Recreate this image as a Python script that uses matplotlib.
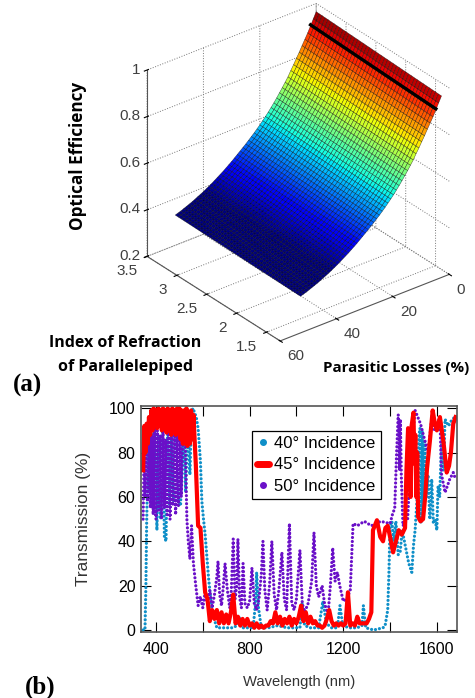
import numpy as np
import matplotlib
matplotlib.use('Agg')
import matplotlib.pyplot as plt
from matplotlib.lines import Line2D
from matplotlib.transforms import ScaledTranslation

plt.rcParams['font.family'] = ['Liberation Sans', 'DejaVu Sans']

# (a) surface, values
losses = np.arange(0, 51)
index_n = np.arange(1.4, 3.501, 0.05)
eff_by_loss = [.945, .92, .895, .87, .848, .826, .803, .782, .76, .74, .718,
               .70, .682, .665, .648, .632, .617, .602, .588, .575, .562,
               .55, .538, .527, .516, .505, .495, .485, .475, .465, .455,
               .446, .437, .428, .42, .412, .404, .396, .389, .382, .375,
               .369, .363, .357, .351, .346, .341, .336, .331, .327, .323]
gain_by_n = [1.0, 1.0, 1.001, 1.001, 1.002, 1.002, 1.003, 1.003, 1.004, 1.004,
             1.005, 1.005, 1.006, 1.006, 1.007, 1.007, 1.008, 1.008, 1.009, 1.009,
             1.01, 1.01, 1.011, 1.011, 1.012, 1.012, 1.013, 1.013, 1.014, 1.014,
             1.015, 1.015, 1.016, 1.016, 1.017, 1.017, 1.018, 1.018, 1.019, 1.019,
             1.02, 1.02, 1.021]
marked_loss = 2

# (b) spectra
wl_40 = [345, 353, 357, 360, 366, 372, 380, 388, 396, 404, 412, 420, 428, 436, 443, 450, 458, 466, 475, 484,
         492, 505, 515, 527, 535, 545, 552, 558, 565, 572, 580, 590, 596, 603, 610, 625, 640, 660, 680, 700,
         730, 745, 755, 765, 790, 815, 825, 830, 838, 850, 880, 920, 960, 1000, 1015, 1024, 1035, 1060, 1095,
         1113, 1128, 1150, 1175, 1186, 1198, 1225, 1260, 1280, 1286, 1296, 1330, 1370, 1379, 1390, 1395, 1400,
         1408, 1415, 1425, 1435, 1443, 1452, 1465, 1480, 1493, 1500, 1507, 1516, 1522, 1528, 1532, 1537, 1542,
         1548, 1555, 1562, 1570, 1578, 1585, 1592, 1600, 1605, 1612, 1620, 1628, 1635, 1650, 1665, 1678]
t_40 = [0, 0, 20, 47, 82, 62, 90, 55, 92, 45, 88, 50, 93, 42, 40, 90, 56, 88, 58, 92,
        60, 56, 90, 62, 95, 70, 98, 100, 98, 96, 91, 76, 58, 50, 43, 23, 8, 1, 1, 1,
        1, 2, 6, 1, 1, 1, 12, 26, 10, 1, 1, 2, 1, 1, 1, 12, 2, 1, 1,
        13, 3, 1, 1, 11, 2, 1, 1, 2, 11, 1, 0, 1, 2, 9, 25, 47, 49, 40, 49, 34, 35, 45, 38, 30, 26, 38,
        45, 60, 85, 91, 48, 90, 50, 85, 60, 70, 50, 68, 48, 50, 45, 65, 60, 85, 72, 95, 92, 95, 96]
wl_45 = (list(range(345, 565, 5)) + list(range(570, 1330, 10)) +
         [1327, 1344, 1358, 1370, 1380, 1390, 1400, 1413, 1425, 1437, 1450, 1464, 1470, 1477, 1480, 1484, 1488, 1492,
          1500, 1504, 1508, 1512, 1516, 1520, 1530, 1541, 1550, 1558, 1570, 1582, 1590, 1600, 1613, 1628, 1642, 1652,
          1660, 1670, 1680])
t_45 = [72, 92, 80, 93, 84, 96, 88, 99, 90, 100, 92, 99, 91, 100, 92, 99, 90, 100, 91, 99, 89, 100,
        90, 99, 88, 100, 90, 99, 88, 100, 90, 100, 86, 99, 84, 99, 84, 100, 83, 98, 84, 99, 86, 97,
        75, 47, 46, 30, 17, 14, 4, 9, 5, 9, 3, 8, 3, 7, 3, 8, 16, 3, 6, 2, 5, 2, 5, 2, 3, 1,
        3, 1, 2, 1, 2, 2, 4, 3, 8, 3, 6, 2, 5, 3, 6, 2, 5, 3, 6, 11, 4, 8, 3, 6, 3, 4, 2, 2,
        1, 2, 5, 9, 4, 2, 3, 2, 3, 2, 3, 17, 2, 3, 2, 6, 3, 3, 3, 3, 5, 8,
        45, 49.5, 42, 40, 46, 47, 42, 35, 40, 45, 43, 46, 72, 91, 68, 85, 60, 92,
        98, 75, 88, 60, 80, 51, 49, 50, 60, 73, 85, 99, 94, 90, 96, 85, 71, 74,
        80, 93, 96]
wl_50 = [345, 349, 353, 358, 364, 370, 376, 382, 388, 394, 400, 406, 412, 418, 424, 430, 436, 442, 448, 454,
         460, 466, 472, 478, 484, 490, 496, 502, 508, 514, 524, 532, 538, 545, 552, 560, 570,
         580, 590, 600, 610, 620, 630, 640, 650, 660, 665, 672, 680, 688, 695, 705, 715, 722, 730, 738, 745, 750,
         757, 765, 772, 780, 790, 800, 810, 820, 830, 840, 850, 857, 865, 875, 885, 895, 905, 915, 925, 938, 948,
         958, 970, 980, 990, 1000, 1015, 1025, 1035, 1050, 1065, 1075, 1085, 1095, 1110, 1120, 1135, 1145, 1155,
         1165, 1175, 1185, 1200, 1215, 1230, 1242,
         1260, 1290, 1320, 1360, 1400, 1410, 1420, 1428, 1435, 1440, 1444, 1448, 1455, 1475, 1490, 1507, 1530,
         1562, 1580, 1590, 1613, 1620, 1635, 1645, 1655, 1670, 1680]
t_50 = [50, 78, 60, 90, 58, 92, 55, 88, 52, 94, 50, 90, 54, 88, 50, 92, 55, 86, 52, 90,
        50, 88, 56, 92, 52, 88, 56, 90, 60, 85, 90, 50, 40, 32, 47, 30, 20,
        11, 15, 10, 17, 12, 18, 10, 16, 24, 31, 16, 11, 20, 30, 18, 10, 18, 41, 14, 20, 41,
        15, 10, 30, 12, 10, 13, 28, 12, 9, 14, 25, 40, 18, 9, 20, 40, 16, 9, 18, 35, 14,
        9, 48, 12, 9, 14, 36, 12, 8, 12, 22, 44, 20, 15, 20, 12, 7, 20, 37,
        22, 26, 20, 13, 14, 18, 48,
        47, 49, 47, 49, 48, 52, 55, 80, 97, 72, 95, 70, 47, 50, 80, 99, 93,
        80, 97, 90, 96, 70, 62, 65, 68, 71, 68]
wl_ticks = [400, 800, 1200, 1600]
minor_wl = [600, 1000, 1400]
t_ticks = [0, 20, 40, 60, 80, 100]
labels_b = ['40° Incidence', '45° Incidence', '50° Incidence']
col_40, col_45, col_50 = '#0f8fc8', '#ff0000', '#6a10c8'

W, H = 475, 698
fig = plt.figure(figsize=(W / 100, H / 100), dpi=100)

# --- panel a
ax = fig.add_axes([0.127, 0.476, 0.98, 0.54], projection='3d', proj_type='ortho', computed_zorder=False)
ax.view_init(elev=30, azim=141.8)
ax.set_box_aspect((1, 1, 1), zoom=0.96)
ax.set_xlim(1.27, 3.5, view_margin=0)
ax.set_ylim(0, 60, view_margin=0)
ax.set_zlim(0.2, 1, view_margin=0)

X, Y = np.meshgrid(index_n, losses)
Z = np.outer(eff_by_loss, gain_by_n)
ax.plot_surface(X, Y, Z, cmap='jet', vmin=0.38, vmax=0.97, rstride=1, cstride=1, edgecolor=(0, 0, 0, 0.65),
                linewidth=0.35, shade=False, antialiased=True, zorder=2)
ax.plot(index_n, np.full(len(index_n), marked_loss), Z[marked_loss] + 0.004, color='k', lw=2.4, zorder=3)

ax.set_xticks([1.5, 2, 2.5, 3, 3.5])
ax.set_xticklabels(['1.5', '2', '2.5', '3', '3.5'], ha='right', va='center')
ax.set_yticks([0, 20, 40, 60])
ax.set_yticklabels(['0', '20', '40', '60'], ha='left', va='center')
ax.set_zticks([0.2, 0.4, 0.6, 0.8, 1])
ax.set_zticklabels(['0.2', '0.4', '0.6', '0.8', '1'], ha='right', va='center')
for a in (ax.xaxis, ax.yaxis, ax.zaxis):
    a.set_pane_color((1, 1, 1, 0))
    a.pane.set_edgecolor((1, 1, 1, 0))
    a._axinfo['grid'].update(color='#777777', linestyle=':', linewidth=0.7)
    a.set_tick_params(labelsize=11, labelcolor='#404040', pad=0)
    a.line.set_color('#555555')
    for lab in a.get_ticklabels():
        lab.set_transform(lab.get_transform() + ScaledTranslation(0, 0.07, fig.dpi_scale_trans))
ax.zaxis.set_tick_params(pad=-5)
ax.zaxis.set_ticks_position('upper')
ax.zaxis.set_label_position('upper')

fig.text(78 / W, 1 - 156 / H, 'Optical Efficiency', rotation=90, ha='center', va='center',
         fontsize=12.3, fontweight='bold', family='Open Sans')
fig.text(125 / W, 1 - 355 / H, 'Index of Refraction\nof Parallelepiped', ha='center', va='center',
         fontsize=11.5, fontweight='bold', family='Open Sans', linespacing=1.7)
fig.text(396 / W, 1 - 368 / H, 'Parasitic Losses (%)', ha='center', va='center',
         fontsize=10.8, fontweight='bold', family='Open Sans')

# --- panel b
axb = fig.add_axes([141 / W, 1 - 632 / H, 316 / W, 226 / H])
axb.plot(wl_40, t_40, color=col_40, lw=2.3, ls=(0, (0.01, 1.25)), dash_capstyle='round')
axb.plot(wl_50, t_50, color=col_50, lw=2.3, ls=(0, (0.01, 1.25)), dash_capstyle='round')
axb.plot(wl_45, t_45, color=col_45, lw=3.0, solid_joinstyle='round')
axb.set_xlim(336, 1686)
axb.set_ylim(-0.9, 101)
axb.set_xticks(wl_ticks)
axb.set_xticks(minor_wl, minor=True)
axb.set_yticks(t_ticks)
axb.tick_params(which='both', direction='in', top=True, right=True, length=7, width=0.8, labelsize=11.5)
axb.tick_params(axis='x', which='both', pad=7)
axb.tick_params(axis='y', which='both', pad=4)
for s in axb.spines.values():
    s.set_color('#555555')
    s.set_linewidth(1.2)
axb.set_xlabel('Wavelength (nm)', fontsize=10.6, color='#333333', labelpad=13)
axb.set_ylabel('Transmission (%)', fontsize=12.4, color='#333333', labelpad=13)
handles = [Line2D([], [], color=col_40, marker='o', ms=4, ls=''),
           Line2D([], [], color=col_45, lw=5, solid_capstyle='round'),
           Line2D([], [], color=col_50, marker='o', ms=4, ls='')]
leg = axb.legend(handles, labels_b, loc='lower left', bbox_to_anchor=((252 - 141) / 316, (632 - 499) / 226),
                 frameon=True, fancybox=False, edgecolor='k', framealpha=1, fontsize=12, handlelength=0.7,
                 handletextpad=0.35, borderaxespad=0, labelspacing=0.4, borderpad=0.3)
leg.get_frame().set_linewidth(0.9)

fig.text(13 / W, 1 - 385 / H, '(a)', fontsize=18, fontweight='bold', family='Liberation Serif', ha='left', va='center')
fig.text(25 / W, 1 - 687 / H, '(b)', fontsize=18, fontweight='bold', family='Liberation Serif', ha='left', va='center')

fig.savefig('out.png', dpi=100)
